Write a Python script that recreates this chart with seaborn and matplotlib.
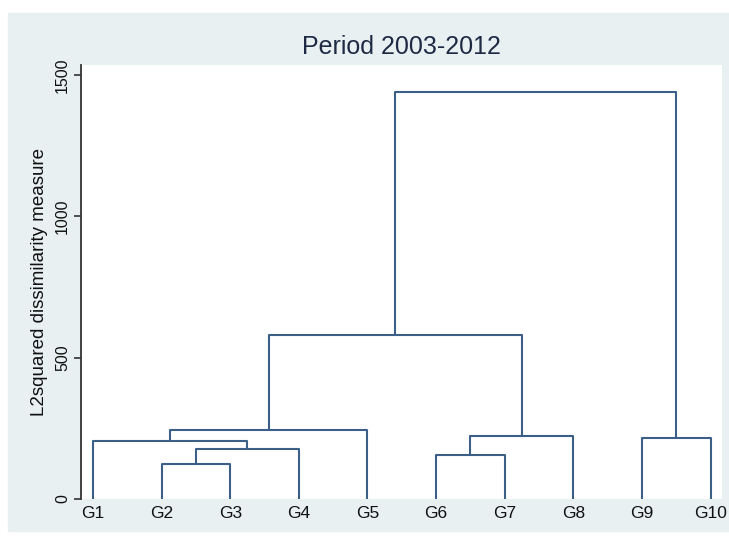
import matplotlib
matplotlib.use('Agg')
import matplotlib.pyplot as plt
import pandas as pd
import seaborn as sns
from matplotlib.patches import Rectangle

# leaves and merge steps (node ids: leaves 0-9, merges 10+)
labels = ['G1', 'G2', 'G3', 'G4', 'G5', 'G6', 'G7', 'G8', 'G9', 'G10']
merge_left = [1, 10, 0, 12, 5, 14, 13, 8, 16]
merge_right = [2, 3, 11, 4, 6, 7, 15, 9, 17]
merge_height = [123, 178, 205, 244, 156, 222, 581, 217, 1439]

yticks = [0, 500, 1000, 1500]

sns.set_style('white')
plt.rcParams['font.family'] = ['Liberation Sans', 'DejaVu Sans']

# node positions
node_x = {i: i + 1 for i in range(len(labels))}
node_y = {i: 0 for i in range(len(labels))}
rows = []
for k, (a, b, h) in enumerate(zip(merge_left, merge_right, merge_height)):
    nid = len(labels) + k
    pts = [(node_x[a], node_y[a]), (node_x[a], h), (node_x[b], h), (node_x[b], node_y[b])]
    for x, y in pts:
        rows.append({'seg': k, 'x': x, 'y': y})
    node_x[nid] = (node_x[a] + node_x[b]) / 2
    node_y[nid] = h
seg_df = pd.DataFrame(rows)

fig = plt.figure(figsize=(7.29, 5.38), dpi=100)
fig.patch.set_facecolor('white')
fig.add_artist(Rectangle((8 / 729, 1 - 531 / 538), 721 / 729, 518 / 538,
                         transform=fig.transFigure, color='#e8f0f2', zorder=-10))
ax = fig.add_axes([81 / 729, 1 - 499 / 538, 641 / 729, 434 / 538])
ax.set_facecolor('white')

sns.lineplot(data=seg_df, x='x', y='y', units='seg', estimator=None, sort=False,
             color='#3b5f86', linewidth=1.5, ax=ax)

ax.set_xlim(0.825, 10.166)
ax.set_ylim(0, 1536)
ax.set_xticks(range(1, len(labels) + 1))
ax.set_xticklabels(labels, fontsize=12.5, color='#111111')
ax.tick_params(axis='x', length=0, pad=5)
ax.set_yticks(yticks)
ax.set_yticklabels([str(t) for t in yticks], fontsize=11.5, color='#111111', rotation=90, va='center')
ax.tick_params(axis='y', length=5, width=1.2, color='#333333', pad=3, left=True, direction='out')
ax.set_xlabel('')
ax.set_ylabel('L2squared dissimilarity measure', fontsize=13.5, color='#111111', labelpad=5)
ax.set_title('Period 2003-2012', fontsize=18, color='#1e2a44', pad=8)

for s in ['top', 'right', 'bottom']:
    ax.spines[s].set_visible(False)
ax.spines['left'].set_color('#333333')
ax.spines['left'].set_linewidth(1.3)

fig.savefig('out.png', dpi=100)
